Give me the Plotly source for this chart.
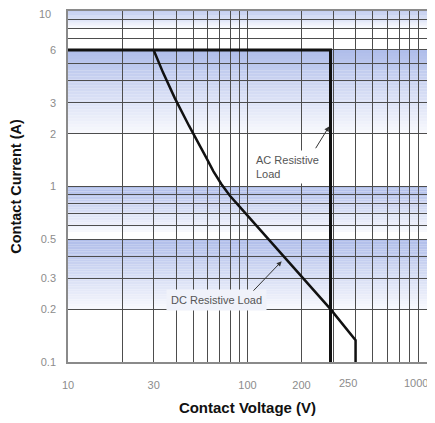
import math
import plotly.graph_objects as go

# ---- data -------------------------------------------------------------
x_labels = [10, 30, 100, 200]                 # labelled x grid values (axis ticks)
x_extra_labels = [250, 1000]                  # x labels drawn as annotations
y_labels = [0.1, 0.2, 0.3, 0.5, 1, 2, 3, 6]   # labelled y grid values (axis ticks)
y_extra_label = 10                            # top y label drawn as annotation

ac_v = [10, 290, 290]
ac_a = [6, 6, 0.1]

dc_v = [30, 31.7, 33.8, 39.3, 47.2, 58.5, 64.6, 71.6, 79.8, 89.3, 105, 140, 199, 290, 400, 400]
dc_a = [6, 5.2, 4.47, 3.2, 2.22, 1.48, 1.22, 1.03, 0.885, 0.779, 0.646, 0.464, 0.31, 0.2, 0.133, 0.1]

band_top = [10, 6, 1, 0.5]
band_bottom = [8.0, 2.0, 0.55, 0.2]

# ---- helpers ------------------------------------------------------------
def log_grid(lo_exp, hi_exp):
    vals = []
    for e in range(lo_exp, hi_exp):
        for d in range(1, 10):
            vals.append(round(d * 10 ** e, 6))
    vals.append(round(10 ** hi_exp, 6))
    return vals

x_grid = log_grid(1, 3)
y_grid = log_grid(-1, 1)

def fmt(v):
    return "%g" % v

x_text = [fmt(v) if v in x_labels else "" for v in x_grid]
y_text = [fmt(v) if v in y_labels else "" for v in y_grid]

FONT = "Liberation Sans, Arial, sans-serif"
GRID = "#4d4d4d"
TICKC = "#8c8c8c"

fig = go.Figure()

fig.add_trace(go.Scatter(x=ac_v, y=ac_a, mode="lines",
                         line=dict(color="#111111", width=3),
                         hoverinfo="skip", showlegend=False))
fig.add_trace(go.Scatter(x=dc_v, y=dc_a, mode="lines",
                         line=dict(color="#111111", width=2.5),
                         hoverinfo="skip", showlegend=False))

# gradient bands (stepped shapes drawn below the gridlines)
shapes = []
top_c = (176, 190, 234)
bot_c = (247, 248, 253)
N = 28
for t, b in zip(band_top, band_bottom):
    lt, lb = math.log10(t), math.log10(b)
    for i in range(N):
        y0 = 10 ** (lt + (lb - lt) * i / N)
        y1 = 10 ** (lt + (lb - lt) * (i + 1) / N)
        f = i / (N - 1)
        c = tuple(int(round(top_c[k] + (bot_c[k] - top_c[k]) * f)) for k in range(3))
        shapes.append(dict(type="rect", xref="x", yref="y", layer="below",
                           x0=10, x1=1000, y0=y1, y1=y0,
                           fillcolor="rgb(%d,%d,%d)" % c, line=dict(width=0)))

tick_font = dict(family=FONT, size=11, color=TICKC)
annotations = [
    dict(x=math.log10(106), y=math.log10(1.62), xref="x", yref="y",
         text="AC Resistive<br>Load", align="left", xanchor="left", yanchor="top",
         showarrow=False, bgcolor="white", borderpad=3,
         font=dict(family=FONT, size=11, color="#555555")),
    dict(x=math.log10(285), y=math.log10(2.2), xref="x", yref="y",
         ax=math.log10(237), ay=math.log10(1.62), axref="x", ayref="y",
         text="", showarrow=True, arrowhead=2, arrowsize=1, arrowwidth=1,
         arrowcolor="#333333"),
    dict(x=math.log10(67.6), y=math.log10(0.2256), xref="x", yref="y",
         text="DC Resistive Load", xanchor="center", yanchor="middle",
         showarrow=False, bgcolor="#f0f2fa", borderpad=4,
         font=dict(family=FONT, size=11, color="#555555")),
    dict(x=math.log10(155), y=math.log10(0.375), xref="x", yref="y",
         ax=math.log10(106), ay=math.log10(0.25), axref="x", ayref="y",
         text="", showarrow=True, arrowhead=2, arrowsize=1, arrowwidth=1,
         arrowcolor="#333333"),
    dict(x=math.log10(x_extra_labels[0]), y=0, xref="x", yref="paper",
         text=fmt(x_extra_labels[0]), xanchor="left", yanchor="top", yshift=-13, xshift=18,
         showarrow=False, font=tick_font),
    dict(x=math.log10(x_extra_labels[1]), y=0, xref="x", yref="paper",
         text=fmt(x_extra_labels[1]), xanchor="right", yanchor="top", yshift=-13, xshift=3,
         showarrow=False, font=tick_font),
    dict(x=0, y=math.log10(y_extra_label), xref="paper", yref="y",
         text=fmt(y_extra_label), xanchor="right", yanchor="middle", xshift=-15, yshift=-3,
         showarrow=False, font=tick_font),
]

# page body has an 8px margin in the browser, so the figure is 8px smaller
fig.update_layout(
    width=427, height=415,
    margin=dict(l=60, r=8, t=3, b=61),
    paper_bgcolor="white", plot_bgcolor="white",
    showlegend=False,
    shapes=shapes,
    annotations=annotations,
    xaxis=dict(type="log", range=[1, 3], tickmode="array", tickvals=x_grid, ticktext=x_text,
               showgrid=True, gridcolor=GRID, gridwidth=1, zeroline=False,
               showline=True, linecolor="#8a8a8a", linewidth=1.5, mirror=True,
               ticks="", ticklabelstandoff=12, automargin=False,
               tickfont=tick_font,
               title=dict(text="<b>Contact Voltage (V)</b>", standoff=13,
                          font=dict(family=FONT, size=15, color="#111111"))),
    yaxis=dict(type="log", range=[-1, 1], tickmode="array", tickvals=y_grid, ticktext=y_text,
               showgrid=True, gridcolor=GRID, gridwidth=1, zeroline=False,
               showline=True, linecolor="#8a8a8a", linewidth=1.5, mirror=True,
               ticks="", ticklabelstandoff=8, automargin=False,
               tickfont=tick_font,
               title=dict(text="<b>Contact Current (A)</b>", standoff=16,
                          font=dict(family=FONT, size=14.5, color="#111111"))),
)

fig.write_html("out.html")
